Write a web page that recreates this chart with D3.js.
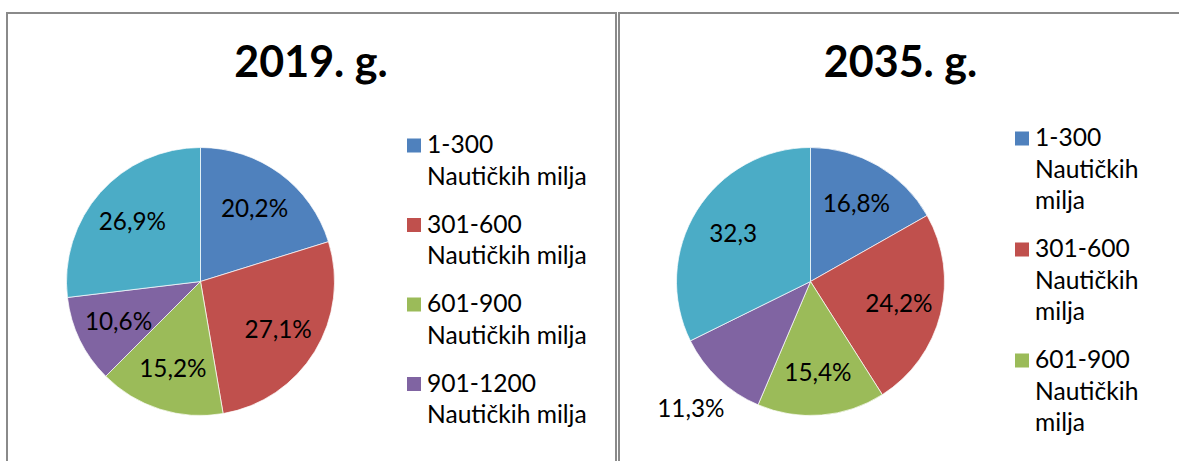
<!DOCTYPE html>
<html>
<head>
<meta charset="utf-8">
<script src="https://cdn.jsdelivr.net/npm/d3@7"></script>
<style>
  html, body { margin: 0; padding: 0; background: #fff; }
  svg { display: block; font-family: Lato, "Open Sans", sans-serif; }
</style>
</head>
<body>
<svg id="chart" width="1179" height="461"></svg>
<script>
// ---- data ----
const categories = [
  "1-300 Nautičkih milja",
  "301-600 Nautičkih milja",
  "601-900 Nautičkih milja",
  "901-1200 Nautičkih milja",
  "1201-1500 Nautičkih milja"
];
const titles = ["2019. g.", "2035. g."];
const values2019 = [20.2, 27.1, 15.2, 10.6, 26.9];
const values2035 = [16.8, 24.2, 15.4, 11.3, 32.3];
const labels2019 = ["20,2%", "27,1%", "15,2%", "10,6%", "26,9%"];
const labels2035 = ["16,8%", "24,2%", "15,4%", "11,3%", "32,3"];
const colors = ["#4F81BD", "#C0504D", "#9BBB59", "#8064A2", "#4BACC6"];

// ---- layout ----
const svg = d3.select("#chart");
const color = d3.scaleOrdinal().domain(categories).range(colors);

const panels = [
  { x0: 7, x1: 616, title: titles[0], titleX: 311, values: values2019, labels: labels2019,
    cx: 200.5, cy: 281.5, r: 134, outside: [], legendX: 407, legendY: 153,
    legendCount: 4, wrap: "range" },
  { x0: 619, x1: 1190, title: titles[1], titleX: 900.5, values: values2035, labels: labels2035,
    cx: 810.5, cy: 281.5, r: 134, outside: [3], legendX: 1015, legendY: 146,
    legendCount: 3, wrap: "word" }
];

const pie = d3.pie().sort(null).value(d => d);
const lineH = 31.5, itemGap = 16.5;

panels.forEach(p => {
  // panel border (no bottom edge visible)
  svg.append("path")
    .attr("d", `M${p.x0},470 L${p.x0},13 L${p.x1},13 L${p.x1},470`)
    .attr("fill", "none").attr("stroke", "#8a8a8a").attr("stroke-width", 2);

  svg.append("text")
    .attr("x", p.titleX).attr("y", 77)
    .attr("text-anchor", "middle")
    .attr("font-size", 43).attr("font-weight", "bold").attr("fill", "#000")
    .text(p.title);

  const g = svg.append("g").attr("transform", `translate(${p.cx},${p.cy})`);
  const arc = d3.arc().innerRadius(0).outerRadius(p.r);
  const labelArc = d3.arc().innerRadius(p.r * 0.68).outerRadius(p.r * 0.68);
  const outArc = d3.arc().innerRadius(p.r * 1.3).outerRadius(p.r * 1.3);
  const arcs = pie(p.values);

  g.selectAll("path.slice").data(arcs).join("path")
    .attr("class", "slice")
    .attr("d", arc)
    .attr("fill", (d, i) => color(categories[i]))
    .attr("stroke", "#ffffff").attr("stroke-width", 0.7);

  g.selectAll("text.lbl").data(arcs).join("text")
    .attr("class", "lbl")
    .attr("transform", (d, i) => {
      const c = (p.outside.includes(i) ? outArc : labelArc).centroid(d);
      return `translate(${c[0]},${c[1]})`;
    })
    .attr("text-anchor", "middle").attr("dy", "0.36em")
    .attr("font-size", 24.3).attr("fill", "#000")
    .text((d, i) => p.labels[i]);

  // legend
  let y = p.legendY;
  categories.slice(0, p.legendCount).forEach((cat, i) => {
    const words = cat.split(" ");
    const lines = p.wrap === "range" ? [words[0], words.slice(1).join(" ")] : words;
    svg.append("rect")
      .attr("x", p.legendX).attr("y", y - 14.5)
      .attr("width", 14).attr("height", 14)
      .attr("fill", color(cat));
    const t = svg.append("text")
      .attr("x", p.legendX + 20).attr("y", y)
      .attr("font-size", 24.6).attr("fill", "#000");
    lines.forEach((ln, k) => {
      t.append("tspan").attr("x", p.legendX + 20).attr("y", y + k * lineH).text(ln);
    });
    y += lines.length * lineH + itemGap;
  });
});
</script>
</body>
</html>
